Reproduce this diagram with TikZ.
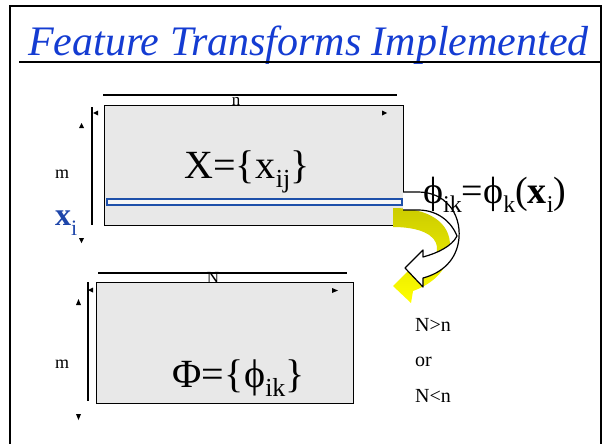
\documentclass[tikz,border=0pt]{standalone}
\usepackage{fontspec}
\setmainfont{Liberation Serif}
\definecolor{titleblue}{RGB}{20,60,210}
\definecolor{vecblue}{RGB}{30,70,170}
\definecolor{barblue}{RGB}{30,80,170}
\definecolor{cellgray}{RGB}{232,232,232}
\definecolor{darkyellow}{RGB}{204,204,0}
\newcommand\bigsub[1]{\raisebox{-9pt}{\fontsize{26}{26}\selectfont #1}}
\newcommand\midsub[1]{\raisebox{-9pt}{\fontsize{24}{24}\selectfont #1}}
\begin{document}
\begin{tikzpicture}[x=1pt,y={(0pt,-1pt)},
  frameline/.style={line width=2.4pt},
  matrixbox/.style={draw, fill=cellgray, line width=1.2pt, inner sep=0, anchor=north west},
  dimline/.style={line width=1.1pt},
  lbl/.style={inner sep=0, anchor=base west},
  dimlbl/.style={inner sep=0, anchor=base, font=\fontsize{17}{17}\selectfont},
  biglbl/.style={lbl, font=\fontsize{40}{40}\selectfont},
  sidelbl/.style={lbl, font=\fontsize{20}{20}\selectfont}]
\useasboundingbox (0,0) rectangle (602,444);

% slide frame and title
\draw[frameline] (10,444) -- (10,6) -- (601,6) -- (601,444);
\node[lbl, text=titleblue, font=\fontsize{42}{42}\selectfont\itshape] (title) at (28,56) {Feature Transforms Implemented};
\draw[line width=2pt] (19,62) -- (602,62);

% data matrix X (m x n)
\node[matrixbox, minimum width=299, minimum height=120] (X) at (103.5,104.5) {};
\draw[dimline] (103,95) -- (397,95);
\node[dimlbl] (nlbl) at (236,105) {n};
\draw[dimline] (92,107) -- (92,225);
\fill (93,113) -- (98,110.5) -- (98,115.5) -- cycle;
\fill (81.5,123) -- (79,128) -- (84,128) -- cycle;
\fill (81.5,243) -- (79,238) -- (84,238) -- cycle;
\fill (387,113) -- (382,110.5) -- (382,115.5) -- cycle;
\node[lbl, font=\fontsize{18}{18}\selectfont] (m1) at (55,178) {m};
\node[draw=barblue, line width=1.6pt, fill=cellgray!40, inner sep=0, minimum width=295, minimum height=6, anchor=north west] (row) at (106,198) {};
\node[biglbl] (Xdef) at (184,178) {X=\{\kern1pt x\bigsub{ij}\}};
\node[lbl, text=vecblue, font=\fontsize{32}{32}\selectfont\bfseries] (xi) at (55,225) {x\raisebox{-10pt}{\fontsize{22}{22}\selectfont\mdseries i}};

% feature matrix Phi (m x N)
\node[matrixbox, minimum width=257, minimum height=121] (Phi) at (96,282) {};
\draw[dimline] (98,273) -- (347,273);
\node[dimlbl] (Nlbl) at (213,283) {N};
\draw[dimline] (88,282) -- (88,401);
\fill (88,290) -- (93,287.5) -- (93,292.5) -- cycle;
\fill (78.5,299) -- (76,305) -- (81,305) -- cycle;
\fill (78.5,420) -- (76,414) -- (81,414) -- cycle;
\fill (338,290.5) -- (332,288) -- (332,293) -- cycle;
\node[lbl, font=\fontsize{18}{18}\selectfont] (m2) at (55,368) {m};
\node[biglbl] (Phidef) at (172,387) {Φ=\{\kern1pt ϕ\bigsub{ik}\}};

% curved transform arrow: shaded body and outlined ribbon
\shade[top color=darkyellow, bottom color=yellow]
  (393,208) .. controls (428,208) and (451,222) .. (450,247)
  .. controls (449,268) and (435,283) .. (413,291) -- (411,303) -- (393,286) -- (413,266) -- (413,276)
  .. controls (428,271) and (438,258) .. (437,247)
  .. controls (436,235) and (420,227) .. (393,227) -- cycle;
\path[draw=black, fill=white, line width=1.2pt, line join=round]
  (403,192) -- (418,192) .. controls (445,192) and (461,213) .. (459,238)
  .. controls (457,260) and (442,273) .. (423,278) -- (423,287) -- (405,268) -- (423,250) -- (423,257)
  .. controls (438,253) and (452,246) .. (457,236)
  .. controls (451,221) and (437,210) .. (418,210) -- (403,210);

\node[lbl, font=\fontsize{38}{38}\selectfont] (map) at (423,203) {ϕ\midsub{ik}=ϕ\midsub{k}(\textbf{x}\midsub{i})};

% size relation
\node[sidelbl] (gt) at (415,331) {N>n};
\node[sidelbl] (or) at (415,366) {or};
\node[sidelbl] (lt) at (415,402) {N<n};
\end{tikzpicture}
\end{document}
